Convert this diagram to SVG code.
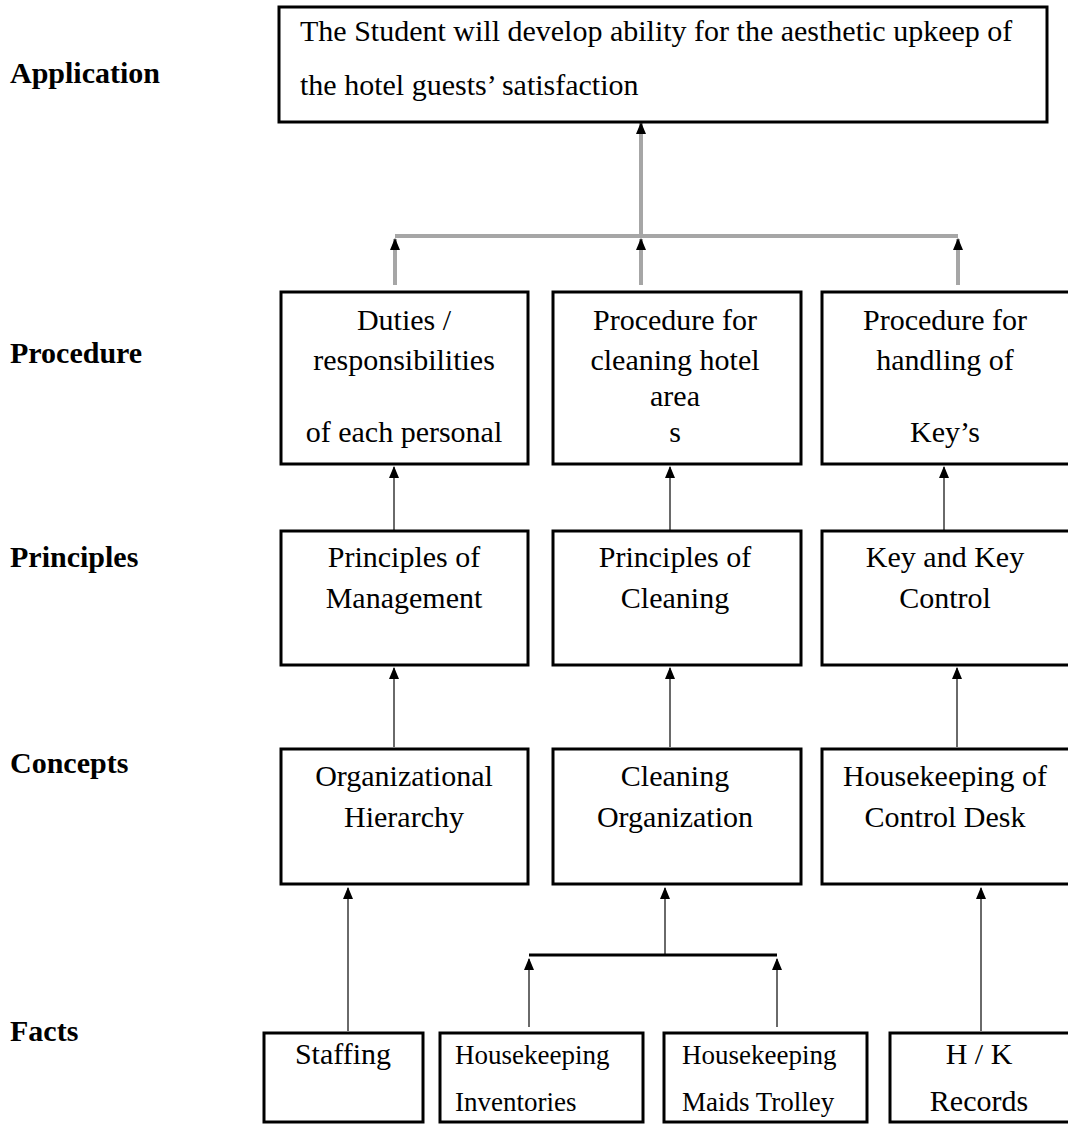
<svg xmlns="http://www.w3.org/2000/svg" width="1068" height="1124" viewBox="0 0 1068 1124">
  <style>
    .box { fill: #ffffff; stroke: #000000; stroke-width: 3; }
    .t { font-family: "Liberation Serif", "Times New Roman", serif; font-size: 30px; fill: #000000; }
    .c { text-anchor: middle; }
    .s { font-size: 27px; }
    .lbl { font-family: "Liberation Serif", "Times New Roman", serif; font-size: 30px; font-weight: bold; fill: #000000; }
    .trunk { stroke: #a6a6a6; stroke-width: 4; fill: none; }
    .link { stroke: #6a6a6a; stroke-width: 2; fill: none; }
    .bar { stroke: #000000; stroke-width: 3; fill: none; }
  </style>
  <defs>
    <!-- arrowhead drawn along +x so orient="auto" turns it to follow the line -->
    <marker id="head" viewBox="0 0 12 10" refX="11" refY="5" markerWidth="12" markerHeight="10" markerUnits="userSpaceOnUse" orient="auto">
      <path d="M0,0 L12,5 L0,10 Z" fill="#000000"/>
    </marker>
  </defs>
  <rect width="1068" height="1124" fill="#ffffff"/>

  <!-- level labels -->
  <g id="levels">
    <text class="lbl" x="10" y="83">Application</text>
    <text class="lbl" x="10" y="363">Procedure</text>
    <text class="lbl" x="10" y="567">Principles</text>
    <text class="lbl" x="10" y="773">Concepts</text>
    <text class="lbl" x="10" y="1041">Facts</text>
  </g>

  <!-- connectors (drawn bottom to top, head at the upper end) -->
  <g id="connectors">
    <line class="trunk" x1="641" y1="236" x2="641" y2="123" marker-end="url(#head)"/>
    <line class="trunk" x1="395" y1="236" x2="958" y2="236"/>
    <line class="trunk" x1="395" y1="285" x2="395" y2="239" marker-end="url(#head)"/>
    <line class="trunk" x1="641" y1="285" x2="641" y2="239" marker-end="url(#head)"/>
    <line class="trunk" x1="958" y1="285" x2="958" y2="239" marker-end="url(#head)"/>

    <line class="link" x1="394" y1="530" x2="394" y2="467" marker-end="url(#head)"/>
    <line class="link" x1="670" y1="530" x2="670" y2="467" marker-end="url(#head)"/>
    <line class="link" x1="944" y1="530" x2="944" y2="467" marker-end="url(#head)"/>

    <line class="link" x1="394" y1="747" x2="394" y2="668" marker-end="url(#head)"/>
    <line class="link" x1="670" y1="747" x2="670" y2="668" marker-end="url(#head)"/>
    <line class="link" x1="957" y1="747" x2="957" y2="668" marker-end="url(#head)"/>

    <line class="link" x1="348" y1="1031" x2="348" y2="888" marker-end="url(#head)"/>
    <line class="link" x1="665" y1="955" x2="665" y2="888" marker-end="url(#head)"/>
    <line class="link" x1="981" y1="1031" x2="981" y2="888" marker-end="url(#head)"/>

    <line class="bar" x1="529" y1="955" x2="777" y2="955"/>
    <line class="link" x1="529" y1="1027" x2="529" y2="959" marker-end="url(#head)"/>
    <line class="link" x1="777" y1="1027" x2="777" y2="959" marker-end="url(#head)"/>
  </g>

  <!-- application -->
  <g id="application">
    <rect class="box" x="279" y="7" width="768" height="115"/>
    <text class="t" x="300" y="41">The Student will develop ability for the aesthetic upkeep of</text>
    <text class="t" x="300" y="95">the hotel guests’ satisfaction</text>
  </g>

  <!-- procedure row -->
  <g id="proc-duties">
    <rect class="box" x="281" y="292" width="247" height="172"/>
    <text class="t c" x="404" y="330">Duties /</text>
    <text class="t c" x="404" y="370">responsibilities</text>
    <text class="t c" x="404" y="442">of each personal</text>
  </g>
  <g id="proc-cleaning">
    <rect class="box" x="553" y="292" width="248" height="172"/>
    <text class="t c" x="675" y="330">Procedure for</text>
    <text class="t c" x="675" y="370">cleaning hotel</text>
    <text class="t c" x="675" y="406">area</text>
    <text class="t c" x="675" y="442">s</text>
  </g>
  <g id="proc-keys">
    <rect class="box" x="822" y="292" width="250" height="172"/>
    <text class="t c" x="945" y="330">Procedure for</text>
    <text class="t c" x="945" y="370">handling of</text>
    <text class="t c" x="945" y="442">Key’s</text>
  </g>

  <!-- principles row -->
  <g id="prin-management">
    <rect class="box" x="281" y="531" width="247" height="134"/>
    <text class="t c" x="404" y="567">Principles of</text>
    <text class="t c" x="404" y="608">Management</text>
  </g>
  <g id="prin-cleaning">
    <rect class="box" x="553" y="531" width="248" height="134"/>
    <text class="t c" x="675" y="567">Principles of</text>
    <text class="t c" x="675" y="608">Cleaning</text>
  </g>
  <g id="prin-key">
    <rect class="box" x="822" y="531" width="250" height="134"/>
    <text class="t c" x="945" y="567">Key and Key</text>
    <text class="t c" x="945" y="608">Control</text>
  </g>

  <!-- concepts row -->
  <g id="conc-hierarchy">
    <rect class="box" x="281" y="749" width="247" height="135"/>
    <text class="t c" x="404" y="786">Organizational</text>
    <text class="t c" x="404" y="827">Hierarchy</text>
  </g>
  <g id="conc-cleaning">
    <rect class="box" x="553" y="749" width="248" height="135"/>
    <text class="t c" x="675" y="786">Cleaning</text>
    <text class="t c" x="675" y="827">Organization</text>
  </g>
  <g id="conc-desk">
    <rect class="box" x="822" y="749" width="250" height="135"/>
    <text class="t c" x="945" y="786">Housekeeping of</text>
    <text class="t c" x="945" y="827">Control Desk</text>
  </g>

  <!-- facts row -->
  <g id="fact-staffing">
    <rect class="box" x="264" y="1033" width="159" height="89"/>
    <text class="t c" x="343" y="1064">Staffing</text>
  </g>
  <g id="fact-inventories">
    <rect class="box" x="440" y="1033" width="203" height="89"/>
    <text class="t s" x="455" y="1064">Housekeeping</text>
    <text class="t s" x="455" y="1111">Inventories</text>
  </g>
  <g id="fact-trolley">
    <rect class="box" x="664" y="1033" width="203" height="89"/>
    <text class="t s" x="682" y="1064">Housekeeping</text>
    <text class="t s" x="682" y="1111">Maids Trolley</text>
  </g>
  <g id="fact-records">
    <rect class="box" x="890" y="1033" width="182" height="89"/>
    <text class="t c" x="979" y="1064">H / K</text>
    <text class="t c" x="979" y="1111">Records</text>
  </g>
</svg>
